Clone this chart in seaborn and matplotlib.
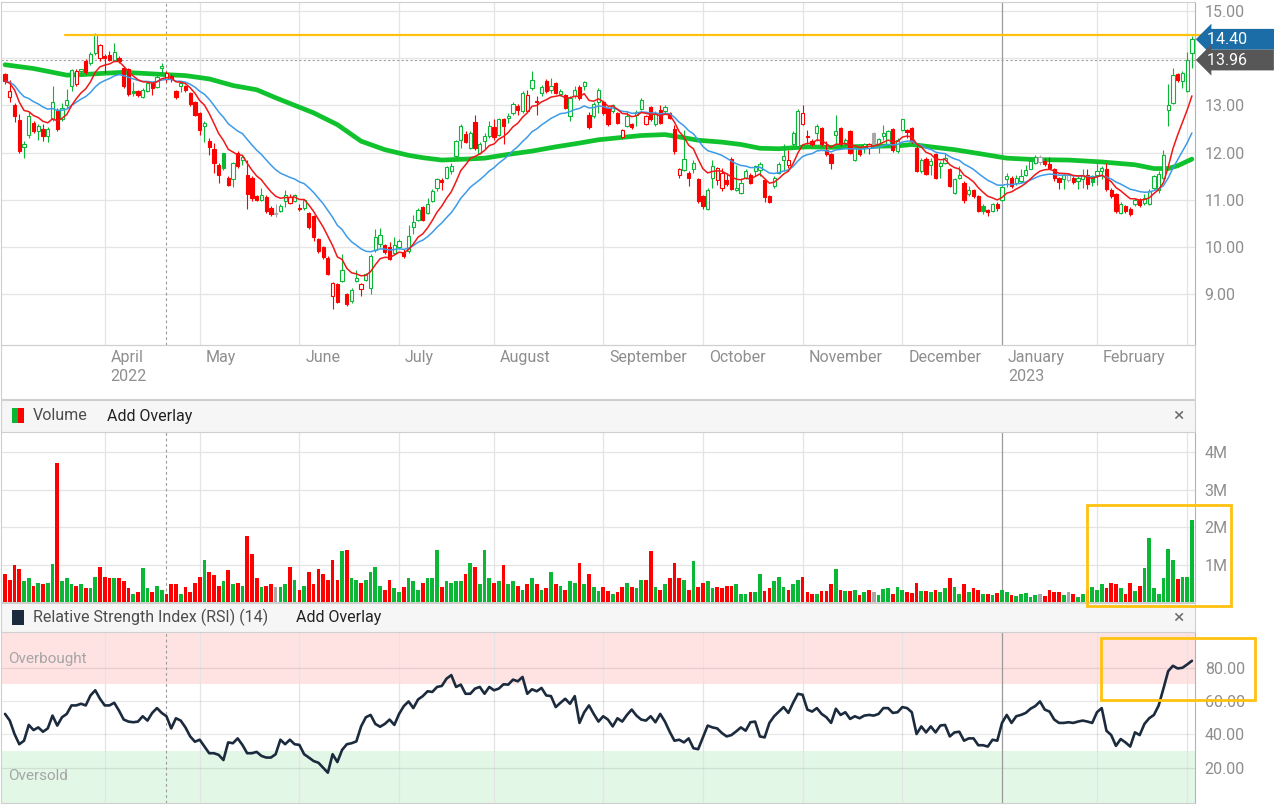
"""
Price / volume / RSI dashboard, redrawn from a broker screenshot
"""

import numpy as np
import pandas as pd
import seaborn as sns
import matplotlib.pyplot as plt
import matplotlib.transforms as mtransforms
from matplotlib.patches import Rectangle

# ---------------- values ----------------
first_day = "2022-03-03"
holidays = ["2022-04-15", "2022-05-30", "2022-06-20", "2022-07-04", "2022-09-05",
            "2022-11-24", "2022-12-26", "2023-01-02", "2023-01-16", "2023-02-20"]

open_ = [13.66, 13.17, 13.01, 12.68, 12.12, 12.38, 12.63, 12.45, 12.50, 12.34,
         12.72, 12.87, 12.70, 13.00, 13.40, 13.45, 13.72, 13.95, 13.90, 14.11,
         14.00, 14.05, 14.07, 13.97, 14.00, 13.79, 13.77, 13.31, 13.31, 13.17,
         13.31, 13.47, 13.38, 13.80, 13.55, 13.63, 13.30, 13.42, 13.40, 13.26,
         13.08, 12.84, 12.57, 12.24, 12.08, 11.74, 11.98, 11.47, 11.43, 11.99,
         11.85, 11.53, 11.46, 11.07, 11.00, 11.05, 10.83, 10.70, 10.76, 10.97,
         10.92, 10.97, 10.83, 10.82, 10.72, 10.65, 10.16, 10.00, 9.77, 8.96,
         9.22, 9.27, 9.00, 8.85, 9.27, 9.10, 9.30, 9.13, 9.94, 10.06,
         10.04, 10.00, 9.86, 9.99, 9.90, 9.91, 10.42, 10.58, 10.84, 10.72,
         10.97, 11.24, 11.42, 11.46, 11.60, 11.92, 12.27, 12.39, 12.10, 12.65,
         11.99, 12.24, 12.34, 12.53, 12.38, 12.72, 12.73, 12.84, 12.98, 12.87,
         12.89, 13.37, 13.10, 13.26, 13.52, 13.33, 13.47, 13.24, 13.21, 12.77,
         13.19, 13.38, 13.42, 12.80, 12.77, 13.08, 13.08, 12.94, 12.89, 12.84,
         12.32, 12.56, 12.60, 12.79, 12.93, 12.60, 12.96, 12.60, 12.91, 12.87,
         12.84, 12.50, 11.53, 11.62, 11.57, 11.64, 11.43, 11.07, 10.81, 11.46,
         11.41, 11.24, 11.41, 11.87, 11.20, 11.14, 11.46, 11.53, 11.60, 11.62,
         11.41, 11.07, 11.29, 11.57, 11.85, 11.74, 12.17, 12.13, 12.60, 12.36,
         12.25, 12.41, 12.52, 12.06, 11.96, 12.38, 12.52, 12.17, 12.46, 11.85,
         12.06, 12.11, 12.10, 12.41, 12.17, 12.34, 12.17, 12.50, 12.03, 12.48,
         12.47, 12.52, 12.10, 11.60, 11.86, 11.74, 11.97, 11.71, 11.78, 11.64,
         11.14, 11.46, 11.36, 11.11, 11.20, 11.07, 10.86, 10.78, 10.76, 10.90,
         11.00, 11.43, 11.46, 11.36, 11.39, 11.53, 11.66, 11.78, 11.80, 11.83,
         11.76, 11.66, 11.46, 11.43, 11.41, 11.46, 11.40, 11.43, 11.53, 11.50,
         11.53, 11.60, 11.64, 11.21, 11.11, 10.72, 10.86, 10.81, 10.90, 11.00,
         10.93, 10.90, 11.25, 11.20, 11.46, 12.91, 13.05, 13.66, 13.51, 13.31,
         14.11]

high = [13.68, 13.54, 13.05, 12.82, 12.25, 12.87, 12.66, 12.60, 12.60, 12.55,
        13.40, 12.95, 13.05, 13.35, 13.77, 13.78, 13.78, 13.98, 14.14, 14.53,
        14.30, 14.08, 14.16, 14.32, 14.04, 13.82, 13.80, 13.50, 13.33, 13.36,
        13.50, 13.50, 13.65, 13.90, 13.72, 13.66, 13.32, 13.50, 13.43, 13.28,
        13.10, 12.86, 12.66, 12.30, 12.20, 11.78, 12.00, 11.50, 11.80, 12.03,
        11.95, 11.85, 11.50, 11.10, 11.25, 11.10, 10.86, 10.90, 10.90, 11.20,
        11.12, 11.12, 10.90, 11.02, 10.74, 10.68, 10.18, 10.02, 9.80, 9.26,
        9.24, 9.84, 9.02, 9.12, 9.52, 9.24, 9.45, 9.84, 10.37, 10.40,
        10.06, 10.10, 10.20, 10.16, 9.95, 10.47, 10.68, 10.82, 10.86, 11.04,
        11.22, 11.46, 11.46, 11.72, 11.78, 12.27, 12.60, 12.45, 12.45, 12.79,
        12.22, 12.41, 12.66, 12.70, 12.73, 12.73, 12.84, 13.07, 13.03, 13.30,
        13.33, 13.73, 13.19, 13.44, 13.56, 13.58, 13.50, 13.34, 13.24, 13.20,
        13.40, 13.44, 13.51, 12.85, 13.08, 13.37, 13.10, 12.97, 13.03, 12.86,
        12.50, 12.87, 12.62, 12.90, 13.15, 12.80, 12.98, 12.88, 13.01, 13.00,
        12.86, 12.58, 11.67, 12.48, 11.60, 11.85, 11.45, 11.10, 11.24, 11.85,
        11.70, 11.67, 11.57, 11.90, 11.74, 11.47, 11.64, 11.56, 11.74, 11.79,
        11.44, 11.10, 11.50, 11.80, 12.17, 12.06, 12.45, 12.92, 13.01, 12.48,
        12.28, 12.60, 12.54, 12.24, 11.98, 12.80, 12.55, 12.30, 12.48, 12.13,
        12.10, 12.20, 12.20, 12.44, 12.31, 12.59, 12.48, 12.52, 12.30, 12.72,
        12.50, 12.55, 12.14, 11.88, 11.90, 11.88, 12.00, 11.82, 11.98, 11.67,
        11.47, 11.71, 11.40, 11.28, 11.22, 11.10, 10.90, 10.80, 10.93, 10.95,
        11.28, 11.57, 11.50, 11.53, 11.64, 11.74, 11.88, 11.95, 11.94, 11.88,
        11.90, 11.68, 11.48, 11.55, 11.56, 11.50, 11.50, 11.64, 11.66, 11.53,
        11.78, 11.71, 11.78, 11.25, 11.14, 10.95, 10.88, 10.84, 11.04, 11.03,
        11.11, 11.22, 11.53, 11.60, 12.06, 13.45, 13.79, 13.68, 13.72, 14.12,
        14.47]

low = [13.45, 13.08, 12.65, 12.00, 11.88, 12.31, 12.41, 12.27, 12.24, 12.22,
       12.66, 12.45, 12.66, 12.95, 13.30, 13.40, 13.66, 13.66, 13.86, 14.07,
       13.95, 13.68, 13.93, 13.93, 13.90, 13.37, 13.20, 13.20, 13.17, 13.15,
       13.28, 13.22, 13.36, 13.65, 13.50, 13.50, 13.14, 13.28, 13.28, 12.98,
       12.77, 12.38, 12.22, 11.95, 11.57, 11.36, 11.63, 11.28, 11.26, 11.68,
       11.74, 10.80, 10.97, 10.97, 10.98, 10.72, 10.66, 10.63, 10.73, 10.84,
       10.90, 10.95, 10.76, 10.78, 10.38, 10.12, 9.88, 9.75, 9.40, 8.68,
       8.80, 9.25, 8.75, 8.82, 9.25, 8.96, 9.27, 9.00, 9.90, 10.00,
       9.85, 9.72, 9.84, 9.95, 9.76, 9.87, 10.28, 10.55, 10.54, 10.69,
       10.95, 11.18, 11.20, 11.43, 11.55, 11.88, 12.10, 12.20, 12.08, 12.06,
       11.96, 12.07, 12.30, 12.27, 12.34, 12.17, 12.63, 12.80, 12.80, 12.84,
       12.87, 13.33, 12.80, 13.19, 13.26, 13.26, 13.24, 13.20, 12.92, 12.66,
       13.15, 13.12, 13.33, 12.50, 12.74, 12.84, 12.80, 12.56, 12.84, 12.60,
       12.30, 12.54, 12.50, 12.56, 12.90, 12.58, 12.66, 12.56, 12.60, 12.84,
       12.70, 11.96, 11.46, 11.60, 11.29, 11.57, 10.93, 10.80, 10.79, 11.25,
       11.32, 11.19, 11.29, 11.20, 11.18, 11.12, 11.43, 11.33, 11.50, 11.50,
       10.95, 10.92, 11.25, 11.55, 11.60, 11.67, 12.10, 12.10, 12.58, 12.17,
       12.13, 12.24, 12.14, 11.92, 11.66, 12.17, 12.14, 12.14, 11.96, 11.83,
       11.93, 11.99, 11.97, 12.14, 12.00, 12.27, 12.13, 12.01, 12.00, 12.45,
       12.31, 12.20, 11.58, 11.57, 11.52, 11.53, 11.43, 11.46, 11.76, 11.26,
       11.12, 11.43, 10.93, 11.07, 11.04, 10.73, 10.69, 10.65, 10.73, 10.76,
       10.98, 11.26, 11.24, 11.32, 11.36, 11.51, 11.64, 11.75, 11.74, 11.72,
       11.65, 11.39, 11.22, 11.22, 11.37, 11.33, 11.22, 11.25, 11.22, 11.30,
       11.32, 11.43, 11.19, 11.03, 10.72, 10.69, 10.72, 10.66, 10.86, 10.85,
       10.88, 10.88, 11.22, 11.15, 11.43, 12.56, 13.03, 13.50, 13.37, 13.28,
       13.80]

close = [13.51, 13.30, 12.77, 12.03, 12.18, 12.77, 12.45, 12.57, 12.34, 12.50,
         13.06, 12.50, 12.94, 13.12, 13.75, 13.72, 13.76, 13.70, 14.09, 14.51,
         14.28, 14.00, 13.97, 14.14, 13.93, 13.42, 13.25, 13.26, 13.22, 13.33,
         13.47, 13.37, 13.61, 13.83, 13.68, 13.55, 13.17, 13.47, 13.33, 13.02,
         12.80, 12.48, 12.62, 12.12, 11.78, 11.53, 11.68, 11.32, 11.78, 11.71,
         11.90, 11.11, 11.04, 11.00, 11.10, 10.76, 10.69, 10.69, 10.86, 11.10,
         11.06, 11.09, 10.80, 11.00, 10.42, 10.20, 9.92, 9.78, 9.42, 9.24,
         8.83, 9.52, 8.78, 9.08, 9.34, 9.22, 9.43, 9.80, 10.20, 10.26,
         9.90, 9.74, 10.05, 10.13, 9.80, 10.23, 10.53, 10.79, 10.56, 10.91,
         11.19, 11.44, 11.38, 11.69, 11.72, 12.24, 12.56, 12.22, 12.41, 12.10,
         12.17, 12.34, 12.56, 12.32, 12.70, 12.56, 12.77, 13.03, 12.91, 13.26,
         13.21, 13.54, 13.06, 13.38, 13.30, 13.40, 13.26, 13.30, 12.94, 13.16,
         13.33, 13.16, 13.49, 12.53, 13.03, 13.33, 12.84, 12.60, 13.00, 12.63,
         12.48, 12.77, 12.53, 12.86, 13.12, 12.77, 12.70, 12.84, 12.63, 12.96,
         12.73, 12.03, 11.64, 11.87, 11.46, 11.77, 10.97, 10.86, 11.21, 11.72,
         11.67, 11.57, 11.33, 11.22, 11.25, 11.36, 11.60, 11.36, 11.71, 11.76,
         11.05, 10.96, 11.46, 11.76, 11.92, 11.85, 12.41, 12.89, 12.84, 12.33,
         12.19, 12.56, 12.17, 11.96, 11.78, 12.45, 12.17, 12.27, 11.99, 12.10,
         11.96, 12.18, 12.17, 12.17, 12.29, 12.41, 12.45, 12.06, 12.27, 12.70,
         12.44, 12.24, 11.61, 11.85, 11.55, 11.81, 11.46, 11.78, 11.88, 11.29,
         11.44, 11.53, 11.00, 11.20, 11.07, 10.76, 10.77, 10.73, 10.90, 10.82,
         11.26, 11.50, 11.28, 11.46, 11.50, 11.62, 11.81, 11.90, 11.90, 11.75,
         11.68, 11.47, 11.37, 11.53, 11.53, 11.37, 11.46, 11.53, 11.33, 11.37,
         11.60, 11.67, 11.22, 11.07, 10.76, 10.91, 10.76, 10.70, 11.00, 10.89,
         11.04, 11.19, 11.50, 11.55, 11.95, 13.00, 13.65, 13.54, 13.68, 13.96,
         14.40]

# daily volume, millions of shares
volume_m = [0.76, 0.58, 0.98, 0.88, 0.55, 0.63, 0.43, 0.50, 0.48, 0.50,
            1.01, 3.71, 0.55, 0.65, 0.48, 0.43, 0.48, 0.37, 0.37, 0.68,
            0.94, 0.68, 0.63, 0.65, 0.63, 0.55, 0.37, 0.21, 0.28, 0.90,
            0.37, 0.26, 0.43, 0.32, 0.21, 0.48, 0.48, 0.21, 0.39, 0.28,
            0.50, 0.68, 1.12, 0.79, 0.73, 0.43, 0.55, 0.86, 0.48, 0.50,
            0.43, 1.76, 1.29, 0.63, 0.41, 0.43, 0.48, 0.41, 0.41, 0.48,
            0.94, 0.58, 0.32, 0.43, 0.79, 0.48, 0.88, 0.76, 0.58, 1.12,
            0.58, 1.35, 1.38, 0.65, 0.58, 0.50, 0.58, 0.79, 0.94, 0.43,
            0.32, 0.58, 0.37, 0.26, 0.41, 0.63, 0.55, 0.32, 0.50, 0.65,
            0.65, 1.38, 0.41, 0.55, 0.50, 0.55, 0.55, 0.76, 1.04, 0.94,
            0.48, 1.38, 0.65, 0.50, 0.55, 0.98, 0.48, 0.55, 0.43, 0.32,
            0.48, 0.63, 0.48, 0.32, 0.37, 0.79, 0.48, 0.43, 0.32, 0.55,
            0.50, 1.04, 0.48, 0.76, 0.41, 0.30, 0.41, 0.30, 0.21, 0.26,
            0.41, 0.50, 0.41, 0.37,
            0.58, 0.58, 1.35, 0.41, 0.32, 0.48, 0.63, 1.04, 0.63, 0.58,
            0.32, 1.10, 0.41, 0.50, 0.55, 0.37, 0.41, 0.37, 0.43, 0.43,
            0.48, 0.21, 0.21, 0.26, 0.26, 0.76, 0.30, 0.37, 0.55, 0.68,
            0.41, 0.32, 0.48, 0.58, 0.68, 0.26, 0.21, 0.21, 0.30, 0.30,
            0.48, 0.88, 0.32, 0.30, 0.30, 0.32, 0.19, 0.26, 0.32, 0.26,
            0.19, 0.35, 0.37, 0.21, 0.41, 0.32, 0.26, 0.23, 0.50, 0.30,
            0.30, 0.26, 0.32, 0.26, 0.37, 0.65, 0.41, 0.21, 0.48, 0.26,
            0.37, 0.32, 0.21, 0.21, 0.19, 0.23, 0.32, 0.28, 0.19, 0.17,
            0.21, 0.23, 0.14, 0.19, 0.21, 0.17, 0.32, 0.26, 0.26, 0.19,
            0.28, 0.21, 0.14, 0.21, 0.32, 0.41, 0.33, 0.48, 0.37, 0.50,
            0.48, 0.37, 0.21, 0.50, 0.30, 0.43, 0.90, 1.70, 0.37, 0.21,
            0.65, 1.41, 1.12, 0.61, 0.68, 0.68, 2.19]

rsi = [52.3, 48.3, 40.2, 34.1, 36.2, 45.7, 42.6, 44.2, 41.6, 43.6,
       51.3, 45.3, 50.3, 52.3, 57.4, 57.4, 58.4, 57.4, 63.4, 66.5,
       61.4, 57.4, 57.4, 59.0, 54.3, 48.9, 47.7, 47.3, 47.7, 50.9,
       48.3, 52.9, 55.8, 52.9, 50.9, 43.6, 49.7, 48.3, 44.2, 38.8,
       35.6, 36.8, 32.7, 28.7, 28.7, 27.7, 24.6, 35.2, 34.7, 37.6,
       33.7, 28.7, 28.7, 29.5, 27.1, 26.1, 26.1, 28.1, 36.8, 34.1,
       36.8, 34.1, 33.7, 28.1, 26.1, 24.0, 23.0, 20.0, 17.0, 28.1,
       23.4, 30.7, 34.1, 34.7, 35.8, 44.8, 50.3, 51.7, 46.3, 44.6,
       46.3, 48.9, 45.7, 52.3, 57.0, 59.8, 55.8, 61.0, 63.0, 65.9,
       65.5, 68.5, 69.1, 73.5, 75.6, 68.5, 69.9, 64.4, 64.4, 67.5,
       68.5, 64.4, 68.5, 66.5, 67.5, 70.1, 69.9, 72.9, 71.9, 74.5,
       64.4, 67.1, 65.9, 67.9, 63.4, 63.0, 56.4, 59.0, 61.4, 58.4,
       63.0, 46.9, 53.3, 57.4, 52.3, 47.7, 50.9, 48.9, 44.8, 49.7,
       47.7, 51.7, 54.9,
       51.3, 48.9, 48.3, 50.9, 47.3, 52.3, 47.7, 41.6,
       36.2, 36.8, 35.2, 37.6, 31.7, 31.1, 38.2, 45.3, 44.2, 43.6,
       40.8, 38.8, 39.6, 41.8, 44.2, 42.2, 47.3, 47.7, 38.8, 38.2,
       46.9, 50.9, 53.7, 56.4, 52.9, 59.0, 64.4, 63.8, 54.9, 53.7,
       55.8, 52.3, 50.3, 46.9, 55.4, 51.7, 53.3, 49.3, 50.9, 49.7,
       51.3, 51.7, 51.3, 52.3, 55.8, 55.8, 52.9, 53.3, 56.4, 55.8,
       53.3, 40.2, 44.8, 41.2, 44.8, 41.2, 45.3, 45.7, 38.8, 41.2,
       41.6, 36.2, 37.6, 37.6, 33.5, 33.5, 32.7, 36.8, 36.2, 46.9,
       51.7, 46.9, 50.9, 51.7, 52.9, 55.4, 57.0, 59.8, 54.9, 53.7,
       48.9, 46.9, 46.9, 47.3, 46.9, 47.7, 48.3, 47.7, 46.9, 53.3,
       55.8, 42.2, 39.6, 33.1, 37.2, 35.2, 32.7, 41.2, 39.6, 46.3,
       49.7, 51.7, 57.4, 67.5, 78.0, 81.2, 79.6, 80.0, 82.0, 84.2]

# slow moving average (thick green line), read at these trading days
sma_days = [0, 6, 13, 16, 21, 25, 34, 38, 43, 48, 53, 57, 61, 65, 70, 75, 80, 85,
            88, 92, 97, 101, 106, 111, 116, 121, 125, 129, 134, 139, 142, 146, 151,
            155, 159, 163, 169, 174, 181, 188, 191, 195, 200, 205, 211, 217, 224,
            231, 238, 242, 245, 247, 250]
sma_vals = [13.86, 13.78, 13.64, 13.65, 13.68, 13.70, 13.65, 13.63, 13.56, 13.42,
            13.33, 13.16, 13.00, 12.84, 12.59, 12.24, 12.06, 11.94, 11.89, 11.84,
            11.86, 11.88, 11.96, 12.03, 12.12, 12.20, 12.27, 12.31, 12.36, 12.38,
            12.33, 12.26, 12.22, 12.17, 12.09, 12.08, 12.12, 12.11, 12.13, 12.14,
            12.17, 12.12, 12.06, 11.98, 11.88, 11.85, 11.84, 11.80, 11.74, 11.66,
            11.66, 11.72, 11.86]

last_price = 14.40
prev_close = 13.96
resistance = 14.50      # the hand-drawn yellow line
resistance_from = 12.6  # trading day where it starts
event_day = 34          # dashed marker line

GREEN = "#0bb835"
RED = "#ff0000"
GREY = "#a8a8a8"
TXT = "#8e8e8e"
GRID = "#e4e4e4"
FRAME = "#cfcfcf"

W, H = 1276, 806


def box(x0, y0, x1, y1):
    """pixel box (top-left origin) -> figure rect"""
    return [x0 / W, 1 - y1 / H, (x1 - x0) / W, (y1 - y0) / H]


def style_axis(ax):
    for s in ax.spines.values():
        s.set_color(FRAME)
        s.set_linewidth(0.8)
    ax.spines["right"].set_color("#b4b4b4")
    ax.yaxis.tick_right()
    ax.tick_params(axis="y", length=0, pad=7, labelcolor=TXT, labelsize=11.5)
    ax.tick_params(axis="x", labelbottom=False)
    ax.set_xlabel("")
    ax.set_ylabel("")
    ax.set_xlim(-0.85, 250.65)


def month_lines(ax, month_idx, jan_idx):
    for i in month_idx:
        if i == jan_idx:
            ax.axvline(i, color="#9a9a9a", lw=0.9, zorder=1)
        else:
            ax.axvline(i, color=GRID, lw=0.9, zorder=0.5)
    ax.axvline(event_day, color="#9a9a9a", lw=0.8, ls=(0, (2.5, 2.5)), zorder=1)


if __name__ == "__main__":
    sns.set_theme(style="white")
    plt.rcParams["font.family"] = ["Roboto", "DejaVu Sans"]

    n = len(close)
    dates = pd.bdate_range(first_day, periods=n, freq="C", holidays=holidays)
    df = pd.DataFrame({"day": np.arange(n), "open": open_, "high": high,
                       "low": low, "close": close, "volume": volume_m, "rsi": rsi},
                      index=dates)
    df["ema_fast"] = df["close"].ewm(span=9, adjust=False).mean()
    df["ema_mid"] = df["close"].ewm(span=20, adjust=False).mean()
    prev = df["close"].shift(1).fillna(df["open"])
    df["dir"] = np.where(df["close"] > prev, "up",
                         np.where(df["close"] < prev, "down", "flat"))
    pal = {"up": GREEN, "down": RED, "flat": GREY}
    cols = df["dir"].map(pal).values

    # first trading day of every month after the start
    firsts = df.groupby([df.index.year, df.index.month])["day"].min().values[1:]
    first_dates = df.index[firsts]
    jan_idx = [i for i, d in zip(firsts, first_dates) if d.month == 1][0]

    fig = plt.figure(figsize=(W / 100, H / 100), dpi=100)
    ax_p = fig.add_axes(box(1, 2, 1195, 345))
    ax_v = fig.add_axes(box(1, 432, 1195, 602))
    ax_r = fig.add_axes(box(1, 632, 1195, 803))

    # ---------------- price panel ----------------
    x = df["day"].values
    o, c = df["open"].values, df["close"].values
    hollow = c > o
    bottom = np.minimum(o, c)
    height = np.maximum(np.abs(c - o), 0.025)
    faces = np.where(hollow, "white", cols)

    for yv in [9, 10, 11, 12, 13, 14, 15]:
        ax_p.axhline(yv, color=GRID, lw=0.9, zorder=0.5)
    month_lines(ax_p, firsts, jan_idx)

    sns.lineplot(x=sma_days, y=sma_vals, color="#10c22e", lw=3.4, ax=ax_p, zorder=2)
    ax_p.vlines(x, df["low"], df["high"], colors=cols, lw=0.8, zorder=3)
    ax_p.bar(x, height, bottom=bottom, width=0.68, color=faces, edgecolor=cols,
             linewidth=0.8, zorder=4)
    sns.lineplot(x=x, y=df["ema_mid"].values, color="#3d9be9", lw=1.1, ax=ax_p, zorder=5)
    sns.lineplot(x=x, y=df["ema_fast"].values, color="#f01818", lw=1.1, ax=ax_p, zorder=6)

    ax_p.axhline(prev_close, color="#a0a0a0", lw=0.8, ls=(0, (2, 2)), zorder=2)
    ax_p.plot([resistance_from, 258], [resistance, resistance], color="#ffc20e",
              lw=1.6, clip_on=False, zorder=7)

    style_axis(ax_p)
    ax_p.set_ylim(7.92, 15.19)
    ax_p.set_yticks([9, 10, 11, 12, 13, 14, 15])
    ax_p.set_yticklabels(["9.00", "10.00", "11.00", "12.00", "13.00", "", "15.00"])
    ax_p.set_xticks(firsts)
    ax_p.tick_params(axis="x", length=9, color=FRAME, width=0.8, direction="out")

    trans = mtransforms.blended_transform_factory(ax_p.transData, ax_p.transAxes)
    lab_tr = mtransforms.offset_copy(trans, fig=fig, x=6, y=-5, units="dots")
    for i, d in zip(firsts, first_dates):
        if d == first_dates[-1]:
            continue
        lab = d.strftime("%B")
        if d.month in (1, 4):
            lab += "\n" + d.strftime("%Y")
        ax_p.text(i, 0, lab, transform=lab_tr, ha="left", va="top", color=TXT,
                  fontsize=11.5, linespacing=1.3)

    # last price / previous close tags
    tag_tr = mtransforms.offset_copy(
        mtransforms.blended_transform_factory(ax_p.transAxes, ax_p.transData),
        fig=fig, x=12, y=0, units="dots")
    for val, fc in [(last_price, "#1b6da8"), (prev_close, "#575757")]:
        ax_p.text(1.0, val, f"{val:.2f}      ", transform=tag_tr, ha="left",
                  va="center", color="white", fontsize=11.5, clip_on=False, zorder=8,
                  bbox=dict(boxstyle="larrow,pad=0.18", fc=fc, ec="none"))

    # ---------------- volume panel ----------------
    for yv in [1, 2, 3, 4]:
        ax_v.axhline(yv, color=GRID, lw=0.9, zorder=0.5)
    month_lines(ax_v, firsts, jan_idx)
    sns.barplot(data=df, x="day", y="volume", hue="dir", palette=pal, native_scale=True,
                dodge=False, width=0.78, saturation=1, errorbar=None, legend=False,
                linewidth=0, ax=ax_v, zorder=3)
    style_axis(ax_v)
    ax_v.set_ylim(0, 4.54)
    ax_v.set_yticks([1, 2, 3, 4])
    ax_v.set_yticklabels(["1M", "2M", "3M", "4M"])
    ax_v.tick_params(axis="x", length=0)
    ax_v.spines["top"].set_visible(False)

    # ---------------- RSI panel ----------------
    ax_r.axhspan(70, 102, color="#ffe3e3", lw=0, zorder=0)
    ax_r.axhspan(-2, 30, color="#e3f7e7", lw=0, zorder=0)
    for yv in [20, 40, 60, 80]:
        ax_r.axhline(yv, color="black", alpha=0.09, lw=0.9, zorder=0.6)
    month_lines(ax_r, firsts, jan_idx)
    sns.lineplot(data=df, x="day", y="rsi", color="#1b2b3d", lw=1.9, ax=ax_r, zorder=4)
    style_axis(ax_r)
    ax_r.set_ylim(-1.2, 101.5)
    ax_r.set_yticks([20, 40, 60, 80])
    ax_r.set_yticklabels(["20.00", "40.00", "60.00", "80.00"])
    ax_r.tick_params(axis="x", length=0)
    ax_r.spines["top"].set_visible(False)
    zone_tr = mtransforms.blended_transform_factory(ax_r.transAxes, ax_r.transData)
    ax_r.text(0.006, 85, "Overbought", transform=zone_tr, color="#a5a5a5",
              fontsize=11, va="center")
    ax_r.text(0.006, 15, "Oversold", transform=zone_tr, color="#a5a5a5",
              fontsize=11, va="center")

    # ---------------- frames, panel headers and notes ----------------
    fig.add_artist(Rectangle((0.5 / W, 1 - 399 / H), 1194.5 / W, 54 / H,
                             transform=fig.transFigure, fill=False, ec=FRAME, lw=0.8))
    headers = [(400, 432, "Volume", 107), (603, 632, "Relative Strength Index (RSI) (14)", 296)]
    for y0, y1, title, add_x in headers:
        fig.add_artist(Rectangle((0.5 / W, 1 - y1 / H), 1194.5 / W, (y1 - y0) / H,
                                 transform=fig.transFigure, fc="#f6f6f6", ec=FRAME, lw=0.8))
        yc = 1 - (y0 + y1) / 2 / H
        fig.text(33 / W, yc, title, color="#4d4d4d", fontsize=11.5, va="center")
        fig.text(add_x / W, yc, "Add Overlay", color="#222222", fontsize=11.5, va="center")
        fig.text(1178 / W, yc, "\u00d7", color="#6b6b6b", fontsize=14, va="center",
                 ha="center")
    # legend swatches
    fig.add_artist(Rectangle((12 / W, 1 - 423 / H), 6 / W, 15 / H,
                             transform=fig.transFigure, fc=GREEN, ec="none"))
    fig.add_artist(Rectangle((18 / W, 1 - 423 / H), 6 / W, 15 / H,
                             transform=fig.transFigure, fc=RED, ec="none"))
    fig.add_artist(Rectangle((12 / W, 1 - 625 / H), 12 / W, 15 / H,
                             transform=fig.transFigure, fc="#1b2b3d", ec="none"))
    # yellow highlight boxes
    for x0, y0, x1, y1 in [(1087, 505, 1231, 606), (1101, 638, 1255, 700)]:
        fig.add_artist(Rectangle((x0 / W, 1 - y1 / H), (x1 - x0) / W, (y1 - y0) / H,
                                 transform=fig.transFigure, fill=False, ec="#ffc20e",
                                 lw=2.0, zorder=10))

    plt.savefig("out.png", dpi=100)
